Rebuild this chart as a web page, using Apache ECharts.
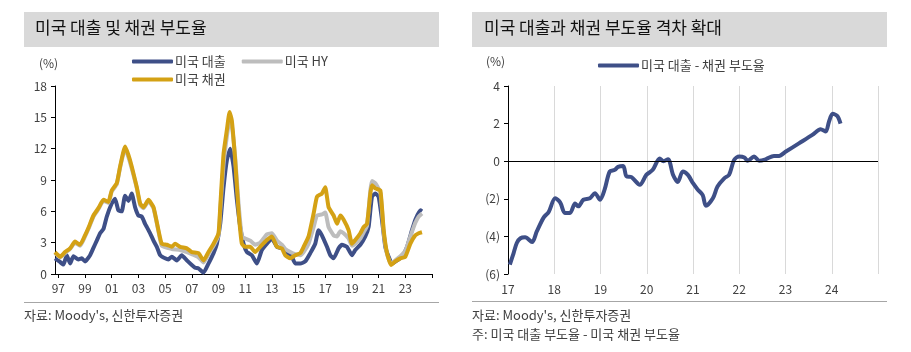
<!DOCTYPE html>
<html>
<head>
<meta charset="utf-8">
<script src="https://cdn.jsdelivr.net/npm/echarts@6/dist/echarts.min.js"></script>
<style>
  html, body { margin: 0; padding: 0; background: #fff; }
  #chart { width: 911px; height: 352px; }
</style>
</head>
<body>
<div id="chart"></div>
<script>
// left chart: default rates (%), x = year as decimal
var loanYears = [1996.75,1997.08,1997.38,1997.63,1997.88,1998.13,1998.5,1998.75,1999.0,1999.38,1999.63,1999.88,2000.13,2000.38,2000.63,2001.0,2001.25,2001.5,2001.75,2002.0,2002.25,2002.5,2002.75,2003.0,2003.25,2003.5,2003.63,2003.88,2004.13,2004.38,2004.63,2005.0,2005.25,2005.5,2005.88,2006.25,2006.63,2007.0,2007.25,2007.5,2007.88,2008.25,2008.63,2008.88,2009.13,2009.38,2009.63,2009.88,2010.13,2010.38,2010.63,2010.88,2011.13,2011.5,2011.88,2012.25,2012.63,2013.0,2013.38,2013.75,2014.13,2014.5,2014.75,2015.13,2015.5,2015.88,2016.25,2016.5,2016.75,2017.13,2017.38,2017.63,2018.0,2018.25,2018.63,2019.0,2019.25,2019.63,2020.0,2020.25,2020.5,2020.75,2021.0,2021.25,2021.5,2021.75,2022.0,2022.38,2022.75,2023.13,2023.5,2023.75,2024.13,2024.25];
var loanRate = [1.5,1.2,0.9,1.8,1.0,1.7,1.4,1.5,1.2,1.8,2.5,3.2,3.9,4.3,5.5,6.75,7.2,6.1,6.0,7.5,7.0,7.7,6.4,5.6,5.5,4.8,4.5,3.9,3.2,2.6,1.8,1.5,1.4,1.65,1.3,1.8,1.3,0.86,0.6,0.54,0.13,1.0,2.0,2.9,4.8,8.3,10.9,12.0,10.3,7.1,4.5,2.9,2.1,1.8,1.0,2.3,2.9,3.4,2.6,2.45,2.1,1.65,1.0,1.0,1.2,2.0,2.9,4.2,3.7,2.6,1.8,1.5,2.45,2.8,2.6,1.8,2.3,2.8,3.6,4.5,7.4,7.7,7.4,5.2,2.6,1.65,1.0,1.3,1.65,2.6,4.2,5.2,6.1,6.0];

var bondYears = [1996.75,1997.13,1997.5,1997.88,1998.25,1998.63,1999.0,1999.25,1999.63,2000.0,2000.38,2000.75,2001.0,2001.38,2001.63,2002.0,2002.25,2002.5,2002.88,2003.13,2003.38,2003.75,2004.13,2004.5,2004.75,2005.13,2005.5,2005.75,2006.13,2006.63,2007.0,2007.5,2007.88,2008.25,2008.63,2009.0,2009.13,2009.38,2009.63,2009.83,2010.0,2010.25,2010.5,2010.75,2011.0,2011.38,2011.75,2012.13,2012.63,2013.0,2013.38,2013.75,2014.0,2014.38,2014.75,2015.13,2015.38,2015.75,2016.13,2016.38,2016.75,2017.0,2017.25,2017.63,2017.88,2018.13,2018.38,2018.75,2019.0,2019.25,2019.63,2019.88,2020.13,2020.38,2020.5,2020.75,2021.13,2021.38,2021.63,2021.93,2022.25,2022.63,2023.0,2023.38,2023.75,2024.0,2024.25];
var bondRate = [2.1,1.65,2.1,2.45,3.1,2.8,3.7,4.4,5.6,6.3,7.1,6.9,8.0,8.7,10.3,12.2,11.4,10.3,8.3,6.75,6.4,7.1,6.4,4.2,2.9,2.8,2.6,2.9,2.6,2.45,2.1,2.0,1.3,2.1,2.9,3.9,6.4,11.5,13.8,15.5,14.7,10.9,6.1,2.9,2.6,2.6,2.1,2.6,3.25,3.6,2.6,2.45,1.8,1.5,1.8,2.0,2.6,3.6,5.8,7.4,7.7,8.3,6.4,5.6,4.8,5.6,5.2,4.2,2.9,3.25,3.9,4.5,4.8,7.7,8.5,8.2,8.0,4.2,2.0,0.86,1.2,1.5,1.65,2.9,3.7,3.9,4.0];

var hyYears = [1996.75,1997.13,1997.5,1997.88,1998.25,1998.63,1999.0,1999.25,1999.63,2000.0,2000.38,2000.75,2001.0,2001.38,2001.63,2002.0,2002.25,2002.5,2002.88,2003.13,2003.38,2003.75,2004.13,2004.5,2004.75,2005.5,2006.13,2006.63,2007.0,2007.5,2007.88,2008.25,2008.63,2009.0,2009.13,2009.38,2009.63,2009.83,2010.0,2010.25,2010.5,2010.75,2011.0,2011.38,2011.75,2012.13,2012.63,2013.0,2013.38,2013.75,2014.0,2014.38,2014.75,2015.13,2015.38,2015.75,2016.13,2016.38,2016.75,2017.0,2017.25,2017.63,2017.88,2018.13,2018.38,2018.75,2019.0,2019.25,2019.63,2019.88,2020.13,2020.38,2020.5,2020.75,2021.13,2021.38,2021.63,2021.93,2022.25,2022.63,2023.0,2023.38,2023.75,2024.0,2024.25];
var hyRate = [2.0,1.6,2.0,2.4,3.0,2.7,3.6,4.3,5.5,6.2,7.0,6.8,7.9,8.6,10.2,12.0,11.2,10.1,8.2,6.6,6.3,7.0,6.3,4.1,2.7,2.4,2.3,2.1,1.9,1.6,1.1,1.9,2.7,3.7,6.0,10.5,13.2,14.7,14.2,11.2,6.8,3.6,3.4,3.2,2.8,3.0,3.8,3.9,3.2,2.8,2.4,2.1,1.9,1.8,2.1,2.9,4.5,5.6,5.7,5.9,4.5,3.7,3.6,4.1,3.9,3.4,2.7,2.9,3.4,4.0,4.6,8.0,8.9,8.7,7.8,4.0,1.9,1.0,1.3,1.7,2.2,3.6,4.9,5.5,5.8];

var leftLabelYears = [1997,1999,2001,2003,2005,2007,2009,2011,2013,2015,2017,2019,2021,2023];
var leftTickYears = [1997,1999,2001,2003,2005,2007,2009,2011,2013,2015,2017,2019,2021,2023,2025];

// right chart: loan minus bond default rate (%p)
var gapYears = [2017.04,2017.12,2017.19,2017.27,2017.37,2017.52,2017.62,2017.77,2017.88,2018.02,2018.13,2018.23,2018.34,2018.45,2018.52,2018.63,2018.77,2018.88,2018.99,2019.09,2019.2,2019.31,2019.38,2019.49,2019.56,2019.67,2019.85,2019.99,2020.13,2020.28,2020.36,2020.46,2020.57,2020.67,2020.78,2020.89,2021.0,2021.1,2021.21,2021.28,2021.43,2021.53,2021.68,2021.78,2021.89,2022.0,2022.11,2022.18,2022.32,2022.43,2022.57,2022.75,2022.86,2023.0,2023.29,2023.58,2023.76,2023.87,2023.94,2024.02,2024.12,2024.19];
var gapRate = [-5.5,-4.9,-4.35,-4.1,-4.05,-4.3,-3.75,-3.0,-2.7,-1.97,-2.2,-2.75,-2.75,-2.25,-2.4,-2.05,-1.97,-1.7,-2.05,-1.5,-0.55,-0.46,-0.3,-0.25,-0.8,-0.85,-1.25,-0.73,-0.46,0.15,0.0,0.1,-0.73,-1.1,-0.55,-0.73,-1.17,-1.5,-1.8,-2.37,-1.97,-1.35,-0.9,-0.73,0.07,0.25,0.2,0.02,0.25,0.02,0.1,0.28,0.28,0.5,0.95,1.4,1.7,1.58,2.1,2.52,2.4,2.0];

function pairs(xs, ys) {
  return xs.map(function (x, i) { return [x, ys[i]]; });
}

var FONT = '"Noto Sans CJK KR", "Noto Sans", sans-serif';
var NAVY = '#3e4f87';
var GOLD = '#d4a114';
var GRAY = '#bdbdbd';
var TXT = '#404040';

var chart = echarts.init(document.getElementById('chart'), null, { renderer: 'canvas' });

var option = {
  animation: false,
  textStyle: { fontFamily: FONT },
  grid: [
    { left: 55, right: 479, top: 86, bottom: 78 },
    { left: 508, right: 33, top: 86, bottom: 78 }
  ],
  legend: [
    {
      data: ['미국 대출', '미국 HY'], left: 127, top: 50, icon: 'roundRect',
      itemWidth: 41, itemHeight: 4, itemGap: 16,
      textStyle: { fontFamily: FONT, fontSize: 13, color: TXT, padding: [0, 0, 0, -3] }
    },
    {
      data: ['미국 채권'], left: 127, top: 68, icon: 'roundRect',
      itemWidth: 41, itemHeight: 4,
      textStyle: { fontFamily: FONT, fontSize: 13, color: TXT, padding: [0, 0, 0, -3] }
    },
    {
      data: ['미국 대출 - 채권 부도율'], left: 593, top: 54, icon: 'roundRect',
      itemWidth: 41, itemHeight: 4,
      textStyle: { fontFamily: FONT, fontSize: 13, color: TXT, padding: [0, 0, 0, -3] }
    }
  ],
  xAxis: [
    {
      type: 'value', gridIndex: 0, min: 1996.75, max: 2025,
      axisLine: { show: true, lineStyle: { color: '#000', width: 1 } },
      axisTick: { show: true, length: 4, lineStyle: { color: '#000' }, customValues: leftTickYears },
      axisLabel: {
        customValues: leftLabelYears, margin: 8, fontSize: 12, color: TXT, fontFamily: FONT,
        formatter: function (v) { return String(Math.round(v) % 100).padStart(2, '0'); }
      },
      splitLine: { show: false }
    },
    {
      type: 'value', gridIndex: 1, min: 2017, max: 2025, interval: 1,
      axisLine: { show: false, onZero: false },
      axisTick: { show: false },
      axisLabel: {
        margin: 9, fontSize: 12, color: TXT, fontFamily: FONT,
        formatter: function (v) { return v >= 2025 ? '' : String(v % 100); }
      },
      splitLine: { show: true, lineStyle: { color: '#d9d9d9', width: 1 } }
    }
  ],
  yAxis: [
    {
      type: 'value', gridIndex: 0, min: 0, max: 18, interval: 3,
      axisLine: { show: true, lineStyle: { color: '#000', width: 1 } },
      axisTick: { show: true, length: 4, lineStyle: { color: '#000' } },
      axisLabel: { margin: 8, fontSize: 12, color: TXT, fontFamily: FONT },
      splitLine: { show: false }
    },
    {
      type: 'value', gridIndex: 1, min: -6, max: 4, interval: 2,
      axisLine: { show: true, onZero: false, lineStyle: { color: '#000', width: 1 } },
      axisTick: { show: true, length: 4, lineStyle: { color: '#000' } },
      axisLabel: {
        margin: 8, fontSize: 12, color: TXT, fontFamily: FONT,
        formatter: function (v) { return v < 0 ? '(' + (-v) + ')' : String(v); }
      },
      splitLine: { show: false }
    }
  ],
  series: [
    {
      name: '미국 대출', type: 'line', xAxisIndex: 0, yAxisIndex: 0,
      data: pairs(loanYears, loanRate), showSymbol: false, smooth: 0.15,
      lineStyle: { color: NAVY, width: 4, join: 'round' }, itemStyle: { color: NAVY }
    },
    {
      name: '미국 HY', type: 'line', xAxisIndex: 0, yAxisIndex: 0,
      data: pairs(hyYears, hyRate), showSymbol: false, smooth: 0.15,
      lineStyle: { color: GRAY, width: 4, join: 'round' }, itemStyle: { color: GRAY }
    },
    {
      name: '미국 채권', type: 'line', xAxisIndex: 0, yAxisIndex: 0,
      data: pairs(bondYears, bondRate), showSymbol: false, smooth: 0.15,
      lineStyle: { color: GOLD, width: 4, join: 'round' }, itemStyle: { color: GOLD }
    },
    {
      name: '미국 대출 - 채권 부도율', type: 'line', xAxisIndex: 1, yAxisIndex: 1,
      data: pairs(gapYears, gapRate), showSymbol: false, smooth: 0.3,
      lineStyle: { color: NAVY, width: 4, join: 'round' }, itemStyle: { color: NAVY },
      markLine: {
        silent: true, symbol: 'none', label: { show: false },
        lineStyle: { color: '#000', width: 1, type: 'solid' },
        data: [{ yAxis: 0 }]
      },
      z: 3
    }
  ],
  graphic: [
    // title bars
    { type: 'rect', left: 24, top: 12, shape: { width: 415, height: 35 }, style: { fill: '#d9d9d9' }, silent: true },
    { type: 'rect', left: 472, top: 12, shape: { width: 415, height: 35 }, style: { fill: '#d9d9d9' }, silent: true },
    { type: 'text', left: 35, top: 19, style: { text: '미국 대출 및 채권 부도율', font: '17px ' + FONT, fill: '#111' } },
    { type: 'text', left: 484, top: 19, style: { text: '미국 대출과 채권 부도율 격차 확대', font: '17px ' + FONT, fill: '#111' } },
    // unit labels
    { type: 'text', left: 39, top: 57, style: { text: '(%)', font: '12px ' + FONT, fill: TXT } },
    { type: 'text', left: 486, top: 55, style: { text: '(%)', font: '12px ' + FONT, fill: TXT } },
    // footer separators
    { type: 'line', shape: { x1: 24, y1: 302.5, x2: 439, y2: 302.5 }, style: { stroke: '#a6a6a6', lineWidth: 1 } },
    { type: 'line', shape: { x1: 472, y1: 301.5, x2: 887, y2: 301.5 }, style: { stroke: '#a6a6a6', lineWidth: 1 } },
    // sources
    { type: 'text', left: 24, top: 309, style: { text: "자료: Moody's, 신한투자증권", font: '13px ' + FONT, fill: TXT } },
    { type: 'text', left: 472, top: 309, style: { text: "자료: Moody's, 신한투자증권", font: '13px ' + FONT, fill: TXT } },
    { type: 'text', left: 472, top: 328, style: { text: '주: 미국 대출 부도율 - 미국 채권 부도율', font: '13px ' + FONT, fill: TXT } }
  ]
};

chart.setOption(option);
</script>
</body>
</html>
